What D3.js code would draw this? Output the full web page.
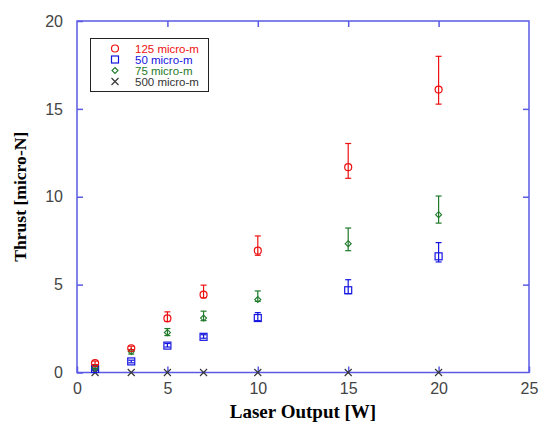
<!DOCTYPE html>
<html><head><meta charset="utf-8">
<script src="https://cdn.jsdelivr.net/npm/d3@7"></script>
<style>body{margin:0;background:#fff}svg{display:block}</style>
</head><body>
<svg id="c" width="539" height="425"></svg>
<script>
const power = [1, 3, 5, 7, 10, 15, 20];
const seriesNames = ["125 micro-m", "50 micro-m", "75 micro-m", "500 micro-m"];
const thrust125 = [0.53, 1.38, 3.08, 4.43, 6.93, 11.68, 16.1];
const err125Hi  = [0.65, 1.5, 3.45, 4.97, 7.77, 13.03, 17.99];
const err125Lo  = [0.45, 1.3, 2.9, 4.25, 6.67, 11.05, 15.27];
const thrust50  = [0.2, 0.63, 1.53, 2.03, 3.1, 4.68, 6.61];
const err50Hi   = [0.25, 0.7, 1.65, 2.15, 3.41, 5.28, 7.39];
const err50Lo   = [0.15, 0.55, 1.45, 1.95, 2.95, 4.49, 6.29];
const thrust75  = [0.27, 1.19, 2.27, 3.1, 4.15, 7.33, 8.98];
const err75Hi   = [0.35, 1.3, 2.5, 3.49, 4.64, 8.22, 10.04];
const err75Lo   = [0.2, 1.05, 2.1, 2.95, 4.05, 6.93, 8.5];
const thrust500 = [0, 0, 0, 0, 0, 0, 0];
const xTicks = [0, 5, 10, 15, 20, 25];
const yTicks = [0, 5, 10, 15, 20];

const svg = d3.select("#c");
const L = 77, R = 529, T = 21, B = 372.5;
const x = d3.scaleLinear().domain([0, 25]).range([L, R]);
const y = d3.scaleLinear().domain([0, 20]).range([B, T]);
const axisColor = "#5a5ae6";

// frame
svg.append("rect").attr("x", L).attr("y", T).attr("width", R - L).attr("height", B - T)
  .attr("fill", "none").attr("stroke", axisColor).attr("stroke-width", 1.5);

function styleAxis(g) {
  g.select(".domain").remove();
  g.selectAll(".tick line").attr("stroke", axisColor).attr("stroke-width", 1.5);
  g.selectAll(".tick text").attr("fill", "#444").attr("font-family", "Liberation Sans, Arial, sans-serif").attr("font-size", 16);
}
svg.append("g").attr("transform", `translate(0,${B})`)
  .call(d3.axisBottom(x).tickValues(xTicks).tickSizeInner(-6).tickSizeOuter(0).tickPadding(10).tickFormat(d3.format("d")))
  .call(styleAxis);
svg.append("g").attr("transform", `translate(${L},0)`)
  .call(d3.axisLeft(y).tickValues(yTicks).tickSizeInner(-6).tickSizeOuter(0).tickPadding(14).tickFormat(d3.format("d")))
  .call(styleAxis);
svg.append("g").attr("transform", `translate(0,${T})`)
  .call(d3.axisTop(x).tickValues(xTicks.slice(1, -1)).tickSizeInner(-6).tickSizeOuter(0).tickFormat(""))
  .call(styleAxis);
svg.append("g").attr("transform", `translate(${R},0)`)
  .call(d3.axisRight(y).tickValues(yTicks.slice(1, -1)).tickSizeInner(-6).tickSizeOuter(0).tickFormat(""))
  .call(styleAxis);

// titles
svg.append("text").attr("x", (L + R) / 2).attr("y", 418).attr("text-anchor", "middle")
  .attr("font-family", "Liberation Serif, Times New Roman, serif").attr("font-weight", "bold").attr("font-size", 19)
  .text("Laser Output [W]");
svg.append("text").attr("transform", `translate(26,${(T + B) / 2}) rotate(-90)`).attr("text-anchor", "middle")
  .attr("font-family", "Liberation Serif, Times New Roman, serif").attr("font-weight", "bold").attr("font-size", 17.6)
  .text("Thrust [micro-N]");

const series = [
  {name: seriesNames[0], vals: thrust125, hi: err125Hi, lo: err125Lo, color: "#ee1111", sym: "circle"},
  {name: seriesNames[1], vals: thrust50, hi: err50Hi, lo: err50Lo, color: "#1515e0", sym: "square"},
  {name: seriesNames[2], vals: thrust75, hi: err75Hi, lo: err75Lo, color: "#1f7a2a", sym: "diamond"},
  {name: seriesNames[3], vals: thrust500, hi: null, lo: null, color: "#333333", sym: "cross"}
];

function drawSym(g, sym, cx, cy, color) {
  if (sym === "circle") g.append("circle").attr("cx", cx).attr("cy", cy).attr("r", 3.5).attr("fill", "none").attr("stroke", color).attr("stroke-width", 1.2);
  else if (sym === "square") g.append("rect").attr("x", cx - 3.5).attr("y", cy - 3.5).attr("width", 7).attr("height", 7).attr("fill", "none").attr("stroke", color).attr("stroke-width", 1.2);
  else if (sym === "diamond") g.append("path").attr("d", `M${cx},${cy - 3}L${cx + 3},${cy}L${cx},${cy + 3}L${cx - 3},${cy}Z`).attr("fill", "none").attr("stroke", color).attr("stroke-width", 1.1);
  else g.append("path").attr("d", `M${cx - 3.5},${cy - 3.5}L${cx + 3.5},${cy + 3.5}M${cx - 3.5},${cy + 3.5}L${cx + 3.5},${cy - 3.5}`).attr("stroke", color).attr("stroke-width", 1.1);
}

const plot = svg.append("g");
[series[3], series[1], series[2], series[0]].forEach(s => {
  const g = plot.append("g");
  power.forEach((p, i) => {
    const cx = x(p), cy = y(s.vals[i]);
    if (s.hi) {
      const yh = y(s.hi[i]), yl = y(s.lo[i]);
      g.append("line").attr("x1", cx).attr("x2", cx).attr("y1", yh).attr("y2", yl).attr("stroke", s.color).attr("stroke-width", 1.2);
      g.append("line").attr("x1", cx - 3).attr("x2", cx + 3).attr("y1", yh).attr("y2", yh).attr("stroke", s.color).attr("stroke-width", 1.2);
      g.append("line").attr("x1", cx - 3).attr("x2", cx + 3).attr("y1", yl).attr("y2", yl).attr("stroke", s.color).attr("stroke-width", 1.2);
    }
    drawSym(g, s.sym, cx, cy, s.color);
  });
});

// legend
const lg = svg.append("g");
lg.append("rect").attr("x", 90.5).attr("y", 38.5).attr("width", 118).attr("height", 53).attr("fill", "#fff").attr("stroke", "#222").attr("stroke-width", 1);
series.forEach((s, i) => {
  const cy = 48.5 + i * 11;
  drawSym(lg, s.sym, 115, cy, s.color);
  lg.append("text").attr("x", 135).attr("y", cy + 4).attr("fill", s.color)
    .attr("font-family", "Liberation Sans, Arial, sans-serif").attr("font-size", 11.5).text(s.name);
});
</script>
</body></html>
